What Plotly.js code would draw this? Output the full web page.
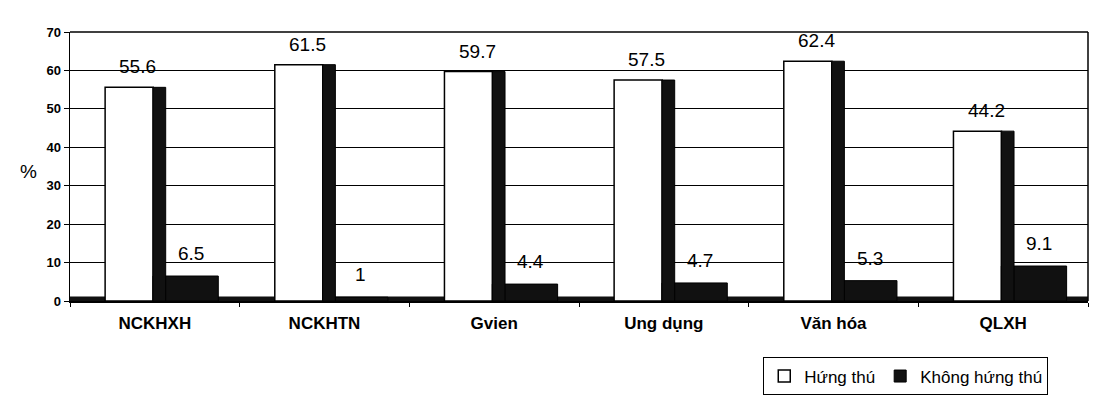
<!DOCTYPE html>
<html>
<head>
<meta charset="utf-8">
<script src="https://cdn.plot.ly/plotly-3.0.1.min.js"></script>
<style>html,body{margin:0;padding:0;background:#fff;}#chart{width:1109px;height:408px;}</style>
</head>
<body>
<div id="chart"></div>
<script>
const categories = ["NCKHXH", "NCKHTN", "Gvien", "Ung dụng", "Văn hóa", "QLXH"];
const hungThu = [55.6, 61.5, 59.7, 57.5, 62.4, 44.2];
const khongHungThu = [6.5, 1, 4.4, 4.7, 5.3, 9.1];
const seriesNames = ["Hứng thú", "Không hứng thú"];
const yTicks = [0, 10, 20, 30, 40, 50, 60, 70];

const font = "Liberation Sans, Arial, sans-serif";

const traces = [
  {
    type: "bar", name: seriesNames[0], x: categories, y: hungThu,
    offset: -0.293, width: 0.283,
    marker: {color: "#ffffff", line: {color: "#000000", width: 1.5}}
  },
  {
    type: "bar", name: seriesNames[1], x: categories, y: khongHungThu,
    offset: -0.011, width: 0.385,
    marker: {color: "#111111", line: {color: "#000000", width: 1}}
  },
  {
    // shaded side face of the white bars (3D look)
    type: "bar", name: "side", x: categories, y: hungThu,
    offset: -0.011, width: 0.075, showlegend: false,
    marker: {color: "#111111", line: {color: "#000000", width: 1}}
  }
];

const labelAnnotations = [];
categories.forEach((c, i) => {
  labelAnnotations.push({
    x: c, y: hungThu[i], xref: "x", yref: "y", text: String(hungThu[i]),
    showarrow: false, yanchor: "bottom", xshift: -17, yshift: 8,
    font: {family: font, size: 19, color: "#000"}
  });
  labelAnnotations.push({
    x: c, y: khongHungThu[i], xref: "x", yref: "y", text: String(khongHungThu[i]),
    showarrow: false, yanchor: "bottom", xshift: 36, yshift: 10,
    font: {family: font, size: 19, color: "#000"}
  });
});

const layout = {
  width: 1109, height: 408,
  margin: {l: 70, r: 21, t: 32, b: 100},
  paper_bgcolor: "#fff", plot_bgcolor: "#fff",
  barmode: "overlay",
  showlegend: true,
  legend: {
    orientation: "h", x: 0.681, xanchor: "left", y: -0.21, yanchor: "top",
    bordercolor: "#000", borderwidth: 1, font: {family: font, size: 17, color: "#000"},
    itemwidth: 30, traceorder: "normal", bgcolor: "#fff"
  },
  xaxis: {
    type: "category",
    showline: true, linecolor: "#000", linewidth: 1.5,
    ticks: "outside", ticklen: 4, tickcolor: "#000",
    tickson: "boundaries", ticklabelstandoff: 6,
    tickfont: {family: font, size: 17, color: "#000", weight: "bold"},
    showgrid: false
  },
  yaxis: {
    range: [0, 70], tickvals: yTicks, ticktext: yTicks.map(String),
    showline: true, linecolor: "#000", linewidth: 1.5,
    ticks: "outside", ticklen: 5, tickcolor: "#000",
    tickfont: {family: font, size: 13, color: "#000", weight: "bold"},
    showgrid: true, gridcolor: "#000", gridwidth: 1,
    zeroline: false
  },
  shapes: [
    {type: "line", xref: "paper", yref: "paper", x0: 0, x1: 1, y0: 1, y1: 1, line: {color: "#000", width: 1.5}},
    {type: "line", xref: "paper", yref: "paper", x0: 1, x1: 1, y0: 0, y1: 1, line: {color: "#000", width: 1.5}},
    {type: "rect", xref: "paper", yref: "y", x0: 0, x1: 1, y0: 0, y1: 1.2, fillcolor: "#111", line: {width: 0}, layer: "below"}
  ],
  annotations: labelAnnotations.concat([
    {text: "%", xref: "paper", yref: "paper", x: -0.051, y: 0.48, showarrow: false,
     font: {family: font, size: 19, color: "#000"}}
  ])
};

Plotly.newPlot("chart", traces, layout, {displayModeBar: false, staticPlot: true});
</script>
</body>
</html>
